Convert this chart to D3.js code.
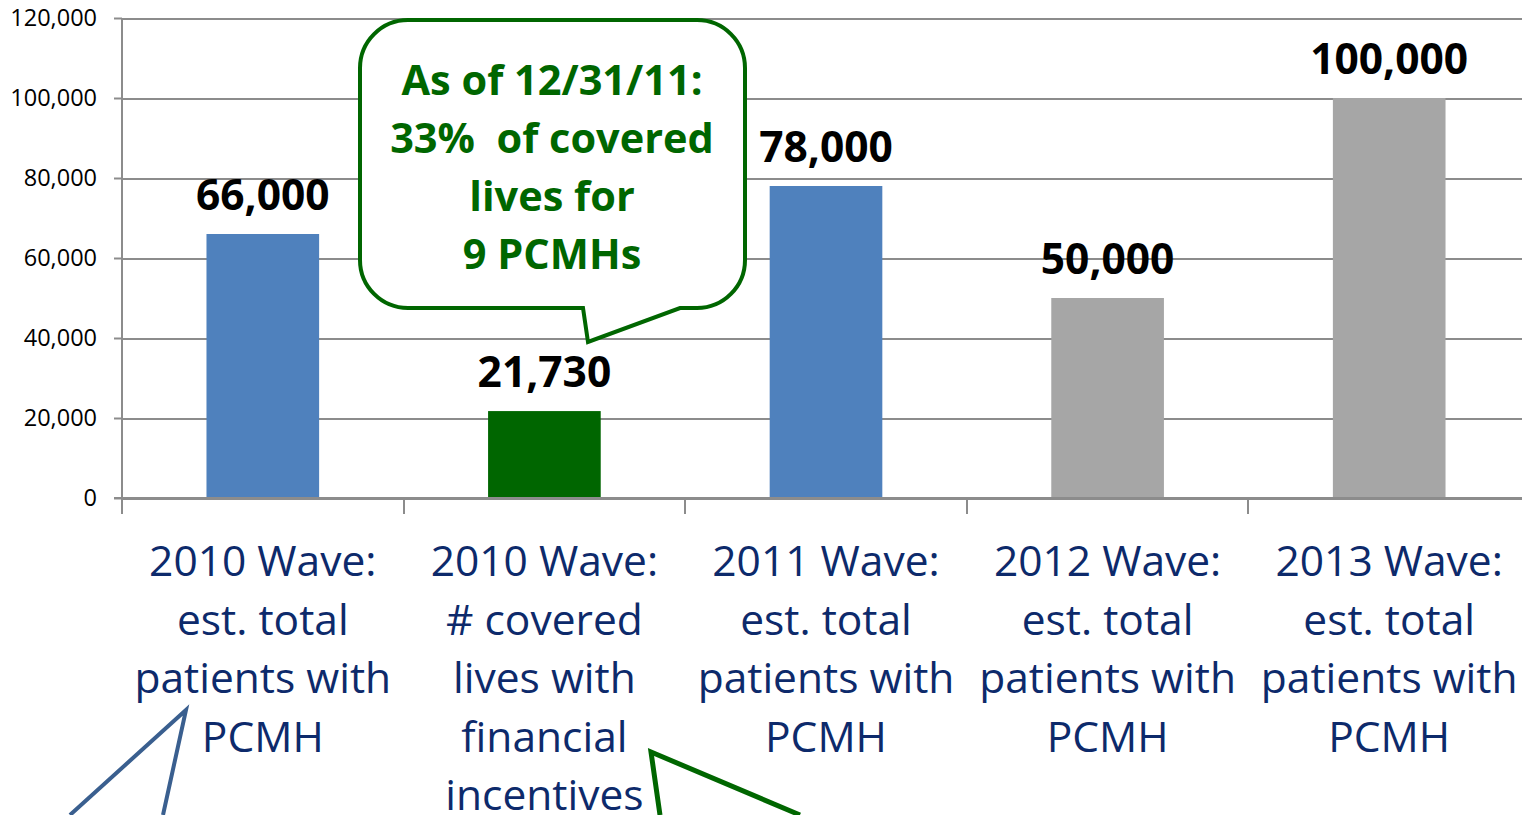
<!DOCTYPE html>
<html>
<head>
<meta charset="utf-8">
<script src="https://cdn.jsdelivr.net/npm/d3@7"></script>
<style>
body{margin:0;background:#fff;overflow:hidden}
</style>
</head>
<body>
<svg id="chartSvg" width="1522" height="815"></svg>
<script>
// ---chart data---
var categoryLines = [
  ["2010 Wave:", "est. total", "patients with", "PCMH"],
  ["2010 Wave:", "# covered", "lives with", "financial", "incentives"],
  ["2011 Wave:", "est. total", "patients with", "PCMH"],
  ["2012 Wave:", "est. total", "patients with", "PCMH"],
  ["2013 Wave:", "est. total", "patients with", "PCMH"]
]
var categories = ["c2010a", "c2010b", "c2011", "c2012", "c2013"]
var values = [66000, 21730, 78000, 50000, 100000]
var barColors = ["#4f81bd", "#006600", "#4f81bd", "#a6a6a6", "#a6a6a6"]
var yTicks = [0, 20000, 40000, 60000, 80000, 100000, 120000]
var calloutLines = ["As of 12/31/11:", "33%  of covered", "lives for", "9 PCMHs"]

var font = "'Open Sans', 'Noto Sans', sans-serif"

var svg = d3.select("#chartSvg")

var plotLeft = 122, plotRight = 1530, plotTop = 18, plotBottom = 498

var xScale = d3.scaleBand()
  .domain(categories)
  .range([plotLeft, plotRight])
  .padding(0)

var yScale = d3.scaleLinear()
  .domain([0, 120000])
  .range([plotBottom, plotTop])

var barW = xScale.bandwidth() * 0.4

//---gridlines---
svg.append("g")
  .attr("transform", "translate(" + plotLeft + ",0)")
  .attr("shape-rendering", "crispEdges")
  .call(d3.axisLeft(yScale).tickValues(yTicks).tickSize(-(plotRight - plotLeft)).tickFormat(""))
  .call(function(g){
    g.select(".domain").remove()
    g.selectAll("line").attr("stroke", "#8c8c8c").attr("stroke-width", 2)
  })

//---y axis---
svg.append("g")
  .attr("transform", "translate(" + plotLeft + ",0)")
  .call(d3.axisLeft(yScale).tickValues(yTicks).tickSize(8).tickPadding(17).tickFormat(d3.format(",")))
  .call(function(g){
    g.select(".domain").attr("stroke", "#8c8c8c").attr("stroke-width", 2).attr("d", "M0," + plotTop + "V" + (plotBottom + 16))
    g.selectAll("line").attr("stroke", "#8c8c8c").attr("stroke-width", 2)
    g.selectAll("text").attr("font-family", font).attr("font-size", "23.5px").attr("fill", "#000")
  })

//---bars---
svg.append("g")
  .selectAll("rect")
  .data(values)
  .enter().append("rect")
  .attr("x", function(d, i){ return xScale(categories[i]) + (xScale.bandwidth() - barW) / 2 })
  .attr("y", function(d){ return yScale(d) })
  .attr("width", barW)
  .attr("height", function(d){ return plotBottom - yScale(d) })
  .attr("fill", function(d, i){ return barColors[i] })

//---x axis line + ticks at band edges---
var xAxisG = svg.append("g").attr("shape-rendering", "crispEdges")
xAxisG.append("line")
  .attr("x1", plotLeft - 8).attr("x2", plotRight)
  .attr("y1", plotBottom).attr("y2", plotBottom)
  .attr("stroke", "#8c8c8c").attr("stroke-width", 2)
xAxisG.selectAll(".xt")
  .data(categories)
  .enter().append("line")
  .attr("class", "xt")
  .attr("x1", function(d){ return xScale(d) })
  .attr("x2", function(d){ return xScale(d) })
  .attr("y1", plotBottom).attr("y2", plotBottom + 16)
  .attr("stroke", "#8c8c8c").attr("stroke-width", 2)

//---value labels---
svg.append("g")
  .selectAll("text")
  .data(values)
  .enter().append("text")
  .attr("x", function(d, i){ return xScale(categories[i]) + xScale.bandwidth() / 2 })
  .attr("y", function(d){ return yScale(d) - 24 })
  .attr("text-anchor", "middle")
  .attr("font-family", font)
  .attr("font-weight", "bold")
  .attr("font-size", "42.5px")
  .attr("fill", "#000")
  .text(d3.format(","))

//---category labels---
var catG = svg.append("g")
  .selectAll("text")
  .data(categoryLines)
  .enter().append("text")
  .attr("text-anchor", "middle")
  .attr("font-family", font)
  .attr("font-size", "42.5px")
  .attr("fill", "#0d2a6b")
catG.each(function(lines, i){
  var cx = xScale(categories[i]) + xScale.bandwidth() / 2
  d3.select(this).selectAll("tspan")
    .data(lines)
    .enter().append("tspan")
    .attr("x", cx)
    .attr("y", function(d, j){ return 576 + j * 58.5 })
    .text(function(d){ return d })
})

//---bottom pointer lines (callouts cut off by frame)---
svg.append("polyline")
  .attr("points", "70,815 186,710 163,815")
  .attr("fill", "none")
  .attr("stroke", "#3a5f8f")
  .attr("stroke-width", 4)
svg.append("polyline")
  .attr("points", "660,815 651,752 800,815")
  .attr("fill", "none")
  .attr("stroke", "#006600")
  .attr("stroke-width", 5)

//---speech bubble---
var bx0 = 360, bx1 = 745, by0 = 20, by1 = 308, r = 48
var tipX = 588, tipY = 342, baseL = 583, baseR = 680
var bubblePath = "M" + (bx0 + r) + "," + by0 +
  "H" + (bx1 - r) + "A" + r + "," + r + " 0 0 1 " + bx1 + "," + (by0 + r) +
  "V" + (by1 - r) + "A" + r + "," + r + " 0 0 1 " + (bx1 - r) + "," + by1 +
  "H" + baseR + "L" + tipX + "," + tipY + "L" + baseL + "," + by1 +
  "H" + (bx0 + r) + "A" + r + "," + r + " 0 0 1 " + bx0 + "," + (by1 - r) +
  "V" + (by0 + r) + "A" + r + "," + r + " 0 0 1 " + (bx0 + r) + "," + by0 + "Z"
svg.append("path")
  .attr("d", bubblePath)
  .attr("fill", "#fff")
  .attr("stroke", "#006600")
  .attr("stroke-width", 4)

svg.append("g")
  .selectAll("text")
  .data(calloutLines)
  .enter().append("text")
  .attr("x", 552)
  .attr("y", function(d, i){ return 95 + i * 58 })
  .attr("text-anchor", "middle")
  .attr("font-family", font)
  .attr("font-weight", "bold")
  .attr("font-size", "41.5px")
  .attr("fill", "#006600")
  .attr("xml:space", "preserve")
  .text(function(d){ return d })
</script>
</body>
</html>
